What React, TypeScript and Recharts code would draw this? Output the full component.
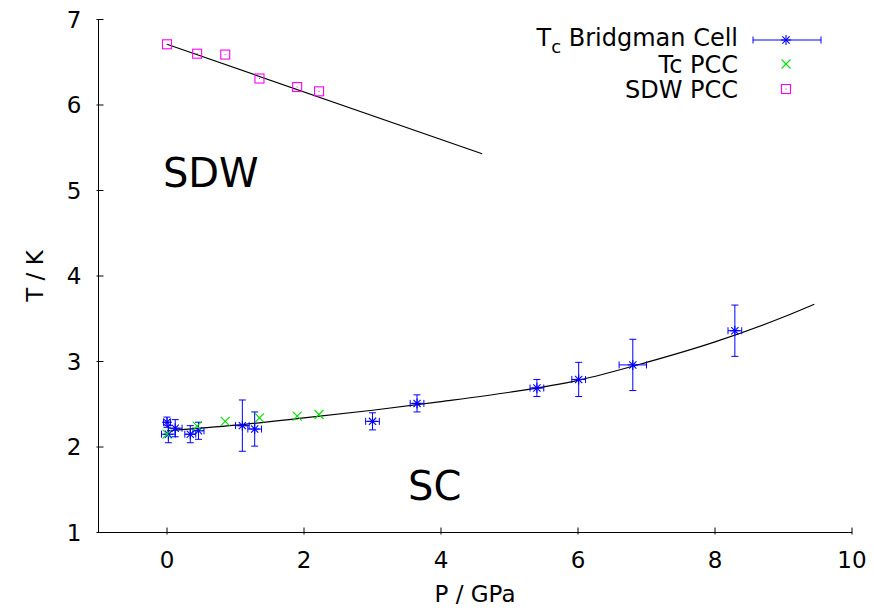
import React from 'react';
import { ComposedChart, XAxis, YAxis, Scatter, Line, ErrorBar, Legend, ReferenceDot } from 'recharts';

// Bridgman cell Tc data (P in GPa, T in K) with error bars
const bridgmanP = [0, 0.02, 0.12, 0.34, 0.46, 1.1, 1.28, 3.0, 3.65, 5.4, 6.01, 6.8, 8.29];
const bridgmanT = [2.29, 2.15, 2.22, 2.15, 2.19, 2.25, 2.21, 2.3, 2.51, 2.69, 2.79, 2.96, 3.36];
const bridgmanPErr = [0.05, 0.1, 0.1, 0.08, 0.08, 0.1, 0.1, 0.1, 0.1, 0.1, 0.1, 0.2, 0.1];
const bridgmanTErr = [0.06, 0.1, 0.1, 0.1, 0.1, 0.3, 0.2, 0.1, 0.1, 0.1, 0.2, 0.3, 0.3];

// PCC data
const pccP = [0, 0.44, 0.85, 1.35, 1.9, 2.22];
const tcPccT = [2.15, 2.245, 2.3, 2.34, 2.36, 2.38];
const sdwPccT = [6.71, 6.6, 6.59, 6.31, 6.21, 6.16];

// Fit curves
const scFitP = [0, 1, 2, 3, 4, 5, 6, 7, 8, 9, 9.45];
const scFitT = [2.19, 2.255, 2.34, 2.43, 2.53, 2.64, 2.78, 2.99, 3.23, 3.52, 3.67];
const sdwFitP = [0, 4.6];
const sdwFitT = [6.71, 5.43];

const xTicks = [0, 2, 4, 6, 8, 10];
const yTicks = [1, 2, 3, 4, 5, 6, 7];
const legendLabels = ['Bridgman Cell', 'Tc PCC', 'SDW PCC'];

const FONT = 'DejaVu Sans';
const BLUE = '#0000ff';
const GREEN = '#00e000';
const MAGENTA = '#ff00ff';

const bridgmanData = bridgmanP.map((p, i) => ({ p, t: bridgmanT[i], ex: bridgmanPErr[i], ey: bridgmanTErr[i] }));
const tcPccData = pccP.map((p, i) => ({ p, t: tcPccT[i] }));
const sdwPccData = pccP.map((p, i) => ({ p, t: sdwPccT[i] }));
const scFitData = scFitP.map((p, i) => ({ p, t: scFitT[i] }));
const sdwFitData = sdwFitP.map((p, i) => ({ p, t: sdwFitT[i] }));

const StarMark = (cx: number, cy: number, color: string) => {
  const s = 5;
  const d = 3.6;
  return (
    <g stroke={color} strokeWidth={1.1}>
      <line x1={cx - s} x2={cx + s} y1={cy} y2={cy} />
      <line x1={cx} x2={cx} y1={cy - s} y2={cy + s} />
      <line x1={cx - d} y1={cy - d} x2={cx + d} y2={cy + d} />
      <line x1={cx - d} y1={cy + d} x2={cx + d} y2={cy - d} />
    </g>
  );
};
const CrossMark = (cx: number, cy: number, color: string) => {
  const d = 4.5;
  return (
    <g stroke={color} strokeWidth={1.1}>
      <line x1={cx - d} y1={cy - d} x2={cx + d} y2={cy + d} />
      <line x1={cx - d} y1={cy + d} x2={cx + d} y2={cy - d} />
    </g>
  );
};
const SquareMark = (cx: number, cy: number, color: string) => {
  const h = 4.5;
  return (
    <g stroke={color} strokeWidth={1.1} fill="none">
      <rect x={cx - h} y={cy - h} width={2 * h} height={2 * h} />
      <rect x={cx - 0.5} y={cy - 0.5} width={1} height={1} fill={color} stroke="none" />
    </g>
  );
};

const StarShape = (props: any) => StarMark(props.cx, props.cy, BLUE);
const CrossShape = (props: any) => CrossMark(props.cx, props.cy, GREEN);
const SquareShape = (props: any) => SquareMark(props.cx, props.cy, MAGENTA);

const BottomTick = (props: any) => {
  const { x, y, payload } = props;
  return (
    <g>
      <line x1={x} x2={x} y1={y} y2={y - 7} stroke="#000" strokeWidth={1} />
      <text x={x} y={y + 33.5} textAnchor="middle" fontSize={23} fontFamily={FONT} fill="#000">
        {payload.value}
      </text>
    </g>
  );
};
const TopTick = (props: any) => {
  const { x, y } = props;
  return <line x1={x} x2={x} y1={y} y2={y + 7} stroke="#000" strokeWidth={1} />;
};
const LeftTick = (props: any) => {
  const { x, y, payload } = props;
  return (
    <g>
      <line x1={x} x2={x + 7} y1={y} y2={y} stroke="#000" strokeWidth={1} />
      <text x={x - 15} y={y + 8} textAnchor="end" fontSize={23} fontFamily={FONT} fill="#000">
        {payload.value}
      </text>
    </g>
  );
};
const RightTick = (props: any) => {
  const { x, y } = props;
  return <line x1={x} x2={x - 7} y1={y} y2={y} stroke="#000" strokeWidth={1} />;
};

const LX = 60; // legend svg x shift
const LegendContent = () => (
  <svg width={360} height={90} style={{ display: 'block' }}>
    <g fontFamily={FONT} fontSize={24} fill="#000">
      <text x={LX + 198} y={26} textAnchor="end">
        <tspan>T</tspan>
        <tspan dy={7} fontSize={18}>c</tspan>
        <tspan dy={-7}>{' ' + legendLabels[0]}</tspan>
      </text>
      <text x={LX + 198} y={53} textAnchor="end">{legendLabels[1]}</text>
      <text x={LX + 198} y={78} textAnchor="end">{legendLabels[2]}</text>
    </g>
    <g stroke={BLUE} strokeWidth={1}>
      <line x1={LX + 213} x2={LX + 281} y1={20} y2={20} />
      <line x1={LX + 213} x2={LX + 213} y1={16.5} y2={23.5} />
      <line x1={LX + 281} x2={LX + 281} y1={16.5} y2={23.5} />
    </g>
    {StarMark(LX + 246, 20, BLUE)}
    {CrossMark(LX + 246, 44, GREEN)}
    {SquareMark(LX + 246, 69, MAGENTA)}
  </svg>
);

const TextLabel = (text: string) => (props: any) => {
  const vb = props.viewBox || {};
  return (
    <text x={vb.x} y={vb.y} textAnchor="start" fontSize={40} fontFamily={FONT} fill="#000">
      {text}
    </text>
  );
};

export default function App() {
  return (
    <div style={{ position: 'absolute', left: 0, top: 0, width: 874, height: 611, background: '#fff' }}>
      <ComposedChart width={874} height={611} margin={{ top: 19.5, right: 22, bottom: 48.5, left: 38.5 }}>
        <XAxis
          xAxisId="bottom"
          dataKey="p"
          type="number"
          domain={[-1, 10]}
          ticks={xTicks}
          interval={0}
          allowDataOverflow
          height={30}
          tickSize={0}
          tickLine={false}
          axisLine={{ stroke: '#000', strokeWidth: 1 }}
          tick={BottomTick}
          label={(p: any) => (
            <text x={475} y={602} textAnchor="middle" fontSize={23} fontFamily={FONT} fill="#000">
              P / GPa
            </text>
          )}
        />
        <XAxis
          xAxisId="top"
          orientation="top"
          dataKey="p"
          type="number"
          domain={[-1, 10]}
          ticks={xTicks}
          interval={0}
          allowDataOverflow
          height={0}
          tickSize={0}
          tickLine={false}
          axisLine={{ stroke: '#000', strokeWidth: 1 }}
          tick={TopTick}
        />
        <YAxis
          yAxisId="left"
          dataKey="t"
          type="number"
          domain={[1, 7]}
          ticks={yTicks}
          interval={0}
          allowDataOverflow
          width={60}
          tickSize={0}
          tickLine={false}
          axisLine={{ stroke: '#000', strokeWidth: 1 }}
          tick={LeftTick}
          label={(p: any) => (
            <text
              x={0}
              y={0}
              transform="translate(43 276) rotate(-90)"
              textAnchor="middle"
              fontSize={23}
              fontFamily={FONT}
              fill="#000"
            >
              T / K
            </text>
          )}
        />
        <YAxis
          yAxisId="right"
          orientation="right"
          dataKey="t"
          type="number"
          domain={[1, 7]}
          ticks={yTicks}
          interval={0}
          allowDataOverflow
          width={0}
          tickSize={0}
          tickLine={false}
          axisLine={{ stroke: '#000', strokeWidth: 1 }}
          tick={RightTick}
        />
        <Legend
          layout="horizontal"
          verticalAlign="middle"
          align="center"
          content={LegendContent}
          wrapperStyle={{ position: 'absolute', left: 480, top: 20, width: 360, height: 90 }}
        />
        <Line
          xAxisId="bottom"
          yAxisId="left"
          data={sdwFitData}
          dataKey="t"
          type="linear"
          stroke="#000"
          strokeWidth={1.2}
          dot={false}
          activeDot={false}
          legendType="none"
          isAnimationActive={false}
        />
        <Line
          xAxisId="bottom"
          yAxisId="left"
          data={scFitData}
          dataKey="t"
          type="monotone"
          stroke="#000"
          strokeWidth={1.2}
          dot={false}
          activeDot={false}
          legendType="none"
          isAnimationActive={false}
        />
        <Scatter
          xAxisId="bottom"
          yAxisId="left"
          name="Tc Bridgman Cell"
          data={bridgmanData}
          dataKey="t"
          shape={StarShape}
          isAnimationActive={false}
        >
          <ErrorBar dataKey="ey" direction="y" width={3.5} stroke={BLUE} strokeWidth={1} isAnimationActive={false} />
          <ErrorBar dataKey="ex" direction="x" width={3.5} stroke={BLUE} strokeWidth={1} isAnimationActive={false} />
        </Scatter>
        <Scatter
          xAxisId="bottom"
          yAxisId="left"
          name="Tc PCC"
          data={tcPccData}
          dataKey="t"
          shape={CrossShape}
          isAnimationActive={false}
        />
        <Scatter
          xAxisId="bottom"
          yAxisId="left"
          name="SDW PCC"
          data={sdwPccData}
          dataKey="t"
          shape={SquareShape}
          isAnimationActive={false}
        />
        <ReferenceDot
          xAxisId="bottom"
          yAxisId="left"
          x={-0.06}
          y={5.04}
          r={0}
          fill="none"
          stroke="none"
          label={TextLabel('SDW')}
        />
        <ReferenceDot
          xAxisId="bottom"
          yAxisId="left"
          x={3.52}
          y={1.38}
          r={0}
          fill="none"
          stroke="none"
          label={TextLabel('SC')}
        />
      </ComposedChart>
    </div>
  );
}
